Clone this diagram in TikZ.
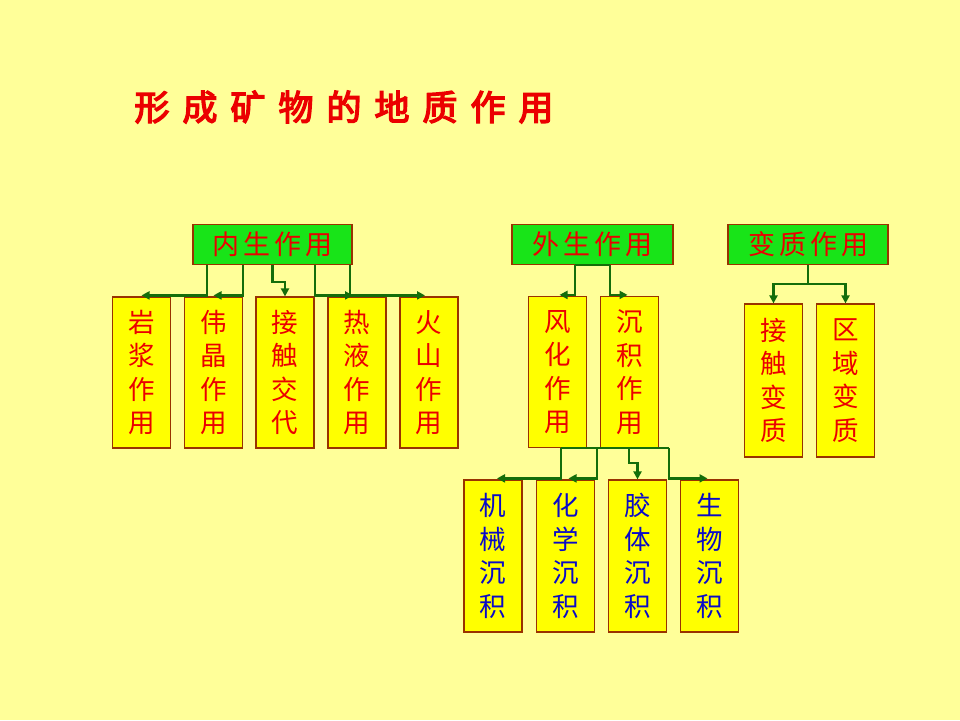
\documentclass[tikz,border=0pt]{standalone}
\usepackage{fontspec}
\newfontfamily\cjk{Noto Sans CJK SC}
\newfontfamily\cjkbold[FakeBold=4]{Noto Sans CJK SC}
\usetikzlibrary{arrows.meta}
\definecolor{bgc}{HTML}{FFFF99}
\definecolor{boxy}{HTML}{FFFF00}
\definecolor{boxg}{RGB}{24,228,24}
\definecolor{edge}{HTML}{993300}
\definecolor{linec}{RGB}{20,110,10}
\definecolor{txtr}{RGB}{235,0,0}
\definecolor{txtb}{RGB}{10,10,200}
\newcommand\tgap{\hspace{13pt}}
\newcommand\hgap{\hspace{4pt}}
\tikzset{
  topbox/.style={draw=edge, line width=1.2pt, fill=boxg, minimum width=159pt, minimum height=40pt,
    inner sep=0pt, text=txtr, font=\cjk\fontsize{27}{27}\selectfont},
  subbox/.style={draw=edge, line width=1.2pt, fill=boxy, minimum width=58pt, minimum height=151pt,
    inner sep=0pt, text=txtr, align=center, font=\cjk\fontsize{26.5}{33.5}\selectfont},
  bluebox/.style={subbox, text=txtb, minimum height=152pt},
  conn/.style={draw=linec, line width=2.4pt, -{Triangle[length=8pt,width=8pt]}},
  bus/.style={draw=linec, line width=2.4pt}
}
\begin{document}
\begin{tikzpicture}[x=1pt,y=-1pt]
\fill[bgc] (0,0) rectangle (960,720);
\useasboundingbox (0,0) rectangle (960,720);

\node[text=txtr, font=\cjkbold\fontsize{35}{35}\selectfont, inner sep=0pt] (title) at (344,107)
  {形\tgap 成\tgap 矿\tgap 物\tgap 的\tgap 地\tgap 质\tgap 作\tgap 用};

% top boxes
\node[topbox] (nei) at (272.5,244.5) {内\hgap 生\hgap 作\hgap 用};
\node[topbox, minimum width=161pt] (wai) at (592.5,244.5) {外\hgap 生\hgap 作\hgap 用};
\node[topbox, minimum width=160pt] (bian) at (808,244.5) {变\hgap 质\hgap 作\hgap 用};

% children of nei
\node[subbox] (yan) at (141.5,372.5) {岩\\浆\\作\\用};
\node[subbox] (wei) at (213.5,372.5) {伟\\晶\\作\\用};
\node[subbox] (jie) at (285,372.5) {接\\触\\交\\代};
\node[subbox] (re)  at (357,372.5) {热\\液\\作\\用};
\node[subbox] (huo) at (429,372.5) {火\\山\\作\\用};

% children of wai
\node[subbox] (feng) at (557.5,372) {风\\化\\作\\用};
\node[subbox] (chen) at (629.5,372) {沉\\积\\作\\用};

% children of bian
\node[subbox, minimum height=153pt] (jc) at (773.5,380.5) {接\\触\\变\\质};
\node[subbox, minimum height=153pt] (qy) at (845.5,380.5) {区\\域\\变\\质};

% children of chen
\node[bluebox] (jx) at (493,556) {机\\械\\沉\\积};
\node[bluebox] (hx) at (565.5,556) {化\\学\\沉\\积};
\node[bluebox] (jt) at (637.5,556) {胶\\体\\沉\\积};
\node[bluebox] (sw) at (709.5,556) {生\\物\\沉\\积};

% connectors from nei
\draw[conn] ([xshift=-65.5pt]nei.south) |- ([yshift=1pt]yan.north);
\draw[conn] ([xshift=-29.5pt]nei.south) |- ([yshift=1pt]wei.north);
\draw[conn] (nei.south) -- ++(0,17) -| (jie.north);
\draw[conn] ([xshift=42.5pt]nei.south) |- ([yshift=1pt,xshift=-4pt]re.north);
\draw[conn] ([xshift=77.5pt]nei.south) |- ([yshift=1pt,xshift=-4pt]huo.north);

% connectors from wai
\draw[bus] ([xshift=-17.5pt]wai.south) -- ([xshift=17.5pt]wai.south);
\draw[conn] ([xshift=-17.5pt]wai.south) |- ([yshift=1pt,xshift=2pt]feng.north);
\draw[conn] ([xshift=17.5pt]wai.south) |- ([yshift=1pt,xshift=-2pt]chen.north);

% connectors from bian
\draw[conn] (bian.south) -- ++(0,19) -| (jc.north);
\draw[conn] (bian.south) -- ++(0,19) -| (qy.north);

% connectors from chen
\draw[bus] ([xshift=-68.5pt]chen.south) -- ([xshift=39.5pt]chen.south);
\draw[conn] ([xshift=-68.5pt]chen.south) |- ([yshift=1pt,xshift=4pt]jx.north);
\draw[conn] ([xshift=-32.5pt]chen.south) |- ([yshift=1pt,xshift=3pt]hx.north);
\draw[conn] ([xshift=-0.5pt]chen.south) -- ++(0,15) -| (jt.north);
\draw[conn] ([xshift=39.5pt]chen.south) |- ([yshift=1pt,xshift=-2pt]sw.north);
\end{tikzpicture}
\end{document}
